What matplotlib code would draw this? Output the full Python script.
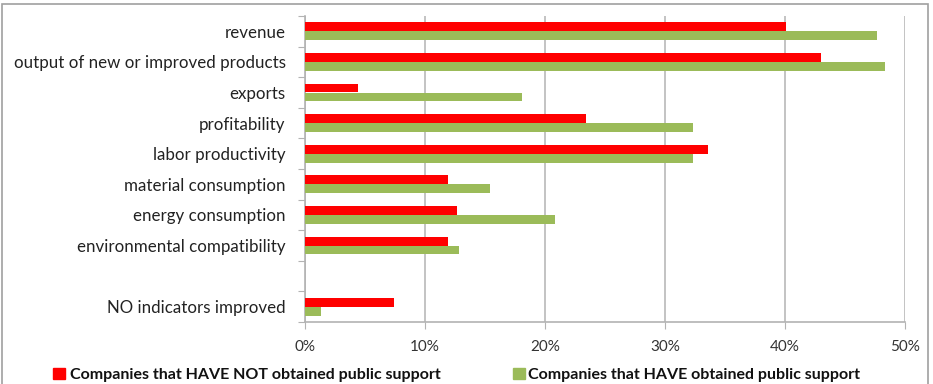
import matplotlib.pyplot as plt
import numpy as np
from matplotlib.patches import Rectangle

categories = ["revenue", "output of new or improved products", "exports",
              "profitability", "labor productivity", "material consumption",
              "energy consumption", "environmental compatibility", "",
              "NO indicators improved"]
not_supported = [40.1, 43.0, 4.4, 23.4, 33.6, 11.9, 12.7, 11.9, 0, 7.4]
supported = [47.7, 48.3, 18.1, 32.3, 32.3, 15.4, 20.8, 12.8, 0, 1.3]
xticks = [0, 10, 20, 30, 40, 50]

RED = "#FF0000"
GREEN = "#9BBB59"
GRID = "#B3B3B3"

plt.rcParams['font.family'] = ['Lato', 'DejaVu Sans']

W, H = 933, 384
fig = plt.figure(figsize=(W / 100, H / 100), dpi=100)
ax = fig.add_axes([305 / W, 1 - 322 / H, 600 / W, 306 / H])

n = len(categories)
y = np.arange(n) + 0.5
h = 0.29
ax.barh(y - h / 2, not_supported, height=h, color=RED, zorder=3)
ax.barh(y + h / 2, supported, height=h, color=GREEN, zorder=3)

ax.set_xlim(0, 50)
ax.set_ylim(n, 0)
ax.set_xticks(xticks)
ax.set_xticklabels([f"{t}%" for t in xticks], fontsize=11, color="#333333")
ax.set_yticks(np.arange(n + 1))
ax.set_yticklabels([])
ax.set_yticks(y, minor=True)
ax.set_yticklabels(categories, minor=True, fontsize=12.2, color="#222222")
ax.tick_params(axis="y", which="major", length=5, color=GRID, direction="out")
ax.tick_params(axis="y", which="minor", length=0, pad=14)
ax.tick_params(axis="x", length=5, color=GRID, pad=8)
ax.grid(axis="x", color=GRID, linewidth=1.1, zorder=0)
for s in ["top", "right"]:
    ax.spines[s].set_visible(False)
for s in ["left", "bottom"]:
    ax.spines[s].set_color(GRID)
    ax.spines[s].set_linewidth(1.2)

# outer chart frame
fig.patches.append(Rectangle((2 / W, -0.1), 926 / W, 1.1 - 4 / H,
                             transform=fig.transFigure, fill=False,
                             edgecolor="#A0A0A0", linewidth=1.2))

# legend along the bottom edge
ly = 1 - 379 / H
fig.patches.append(Rectangle((53 / W, ly), 12 / W, 11 / H,
                             transform=fig.transFigure, color=RED))
fig.text(70 / W, ly, "Companies that HAVE NOT obtained public support",
         fontsize=11.5, fontweight="bold", va="baseline", color="#111111")
fig.patches.append(Rectangle((513 / W, ly), 12 / W, 11 / H,
                             transform=fig.transFigure, color=GREEN))
fig.text(528 / W, ly, "Companies that HAVE obtained public support",
         fontsize=11.5, fontweight="bold", va="baseline", color="#111111")

fig.savefig("out.png", dpi=100)
